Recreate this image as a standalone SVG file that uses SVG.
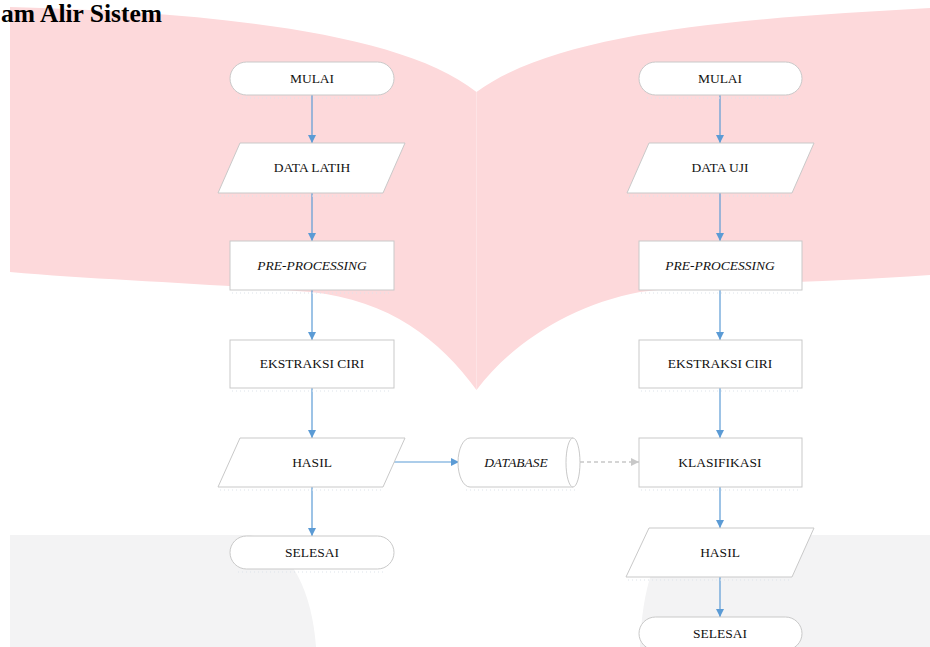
<svg xmlns="http://www.w3.org/2000/svg" width="930" height="647" viewBox="0 0 930 647">
<style>
.n{fill:#fff;stroke:#c9c9c9;stroke-width:1}
.t{font-family:"Liberation Serif","Times New Roman",serif;font-size:13.5px;fill:#111;text-anchor:middle}
.i{font-style:italic}
.c{stroke:#5b9bd5;stroke-width:1.2;fill:none}
.d{stroke:#c8c8c8;stroke-width:1.5;fill:none;stroke-dasharray:4 3}
.s{stroke:#dde3ea;stroke-width:1;stroke-dasharray:1 3;fill:none}
</style>
<defs>
<marker id="a" viewBox="0 0 10 10" refX="10" refY="5" markerWidth="8" markerHeight="8" markerUnits="userSpaceOnUse" orient="auto"><path d="M0,0L10,5L0,10z" fill="#5b9bd5"/></marker>
<marker id="g" viewBox="0 0 10 10" refX="10" refY="5" markerWidth="8" markerHeight="8" markerUnits="userSpaceOnUse" orient="auto"><path d="M0,0L10,5L0,10z" fill="#c8c8c8"/></marker>
</defs>
<g id="background">
<path d="M10,7 C200,12 400,30 476.5,92 L476.5,390 C440,340 390,300 310,292 C220,284 100,280 10,272 Z" fill="#fdd9db"/>
<path d="M476.5,92 C560,30 750,18 930,8 L930,275 C820,283 710,283 640,292 C570,305 510,345 476.5,390 Z" fill="#fdd9db"/>
<line x1="476.5" y1="92" x2="476.5" y2="388" stroke="#fde3e5" stroke-width="1"/>
<path d="M10,535 L250,535 C290,545 312,590 316,647 L10,647 Z" fill="#f3f3f4"/>
<path d="M930,535 L680,535 C655,545 642,590 640,647 L930,647 Z" fill="#f3f3f4"/>
</g>
<text x="1" y="22" font-family="'Liberation Serif','Times New Roman',serif" font-weight="bold" font-size="25.5" fill="#000">am Alir Sistem</text>
<g id="connectors">
<line class="c" x1="312" y1="95" x2="312" y2="143" marker-end="url(#a)"/>
<line class="c" x1="312" y1="193" x2="312" y2="241" marker-end="url(#a)"/>
<line class="c" x1="312" y1="290" x2="312" y2="340" marker-end="url(#a)"/>
<line class="c" x1="312" y1="388" x2="312" y2="438" marker-end="url(#a)"/>
<line class="c" x1="312" y1="487" x2="312" y2="536" marker-end="url(#a)"/>
<line class="c" x1="394" y1="462" x2="459" y2="462" marker-end="url(#a)"/>
<line class="d" x1="580" y1="462" x2="639" y2="462" marker-end="url(#g)"/>
<line class="c" x1="720" y1="95" x2="720" y2="143" marker-end="url(#a)"/>
<line class="c" x1="720" y1="193" x2="720" y2="241" marker-end="url(#a)"/>
<line class="c" x1="720" y1="290" x2="720" y2="340" marker-end="url(#a)"/>
<line class="c" x1="720" y1="388" x2="720" y2="438" marker-end="url(#a)"/>
<line class="c" x1="720" y1="487" x2="720" y2="528" marker-end="url(#a)"/>
<line class="c" x1="720" y1="577" x2="720" y2="617" marker-end="url(#a)"/>
</g>
<g id="mulai1"><rect class="n" x="230" y="62" width="164" height="33" rx="16.5"/><line class="s" x1="238" y1="98" x2="386" y2="98"/><text class="t" x="312" y="83">MULAI</text></g>
<g id="datalatih"><path class="n" d="M240,143 L405,143 L383,193 L218,193 Z"/><line class="s" x1="220" y1="196" x2="381" y2="196"/><text class="t" x="312" y="172">DATA LATIH</text></g>
<g id="pre1"><rect class="n" x="230" y="241" width="164" height="49"/><line class="s" x1="232" y1="293" x2="392" y2="293"/><text class="t i" x="312" y="270">PRE-PROCESSING</text></g>
<g id="ekstraksi1"><rect class="n" x="230" y="340" width="164" height="48"/><line class="s" x1="232" y1="391" x2="392" y2="391"/><text class="t" x="312" y="368">EKSTRAKSI CIRI</text></g>
<g id="hasil1"><path class="n" d="M240,438 L405,438 L383,487 L218,487 Z"/><line class="s" x1="220" y1="490" x2="381" y2="490"/><text class="t" x="312" y="467">HASIL</text></g>
<g id="selesai1"><rect class="n" x="230" y="536" width="164" height="33" rx="16.5"/><line class="s" x1="238" y1="572" x2="386" y2="572"/><text class="t" x="312" y="557">SELESAI</text></g>
<g id="database"><path class="n" d="M470,438 L573,438 A7,24.5 0 0 1 573,487 L470,487 A12,24.5 0 0 1 470,438 Z"/><path class="n" d="M573,438 A7,24.5 0 0 0 573,487"/><line class="s" x1="466" y1="490" x2="576" y2="490"/><text class="t i" x="516" y="467">DATABASE</text></g>
<g id="mulai2"><rect class="n" x="639" y="62" width="163" height="33" rx="16.5"/><line class="s" x1="647" y1="98" x2="794" y2="98"/><text class="t" x="720" y="83">MULAI</text></g>
<g id="datauji"><path class="n" d="M649,143 L814,143 L792,193 L627,193 Z"/><line class="s" x1="629" y1="196" x2="790" y2="196"/><text class="t" x="720" y="172">DATA UJI</text></g>
<g id="pre2"><rect class="n" x="639" y="241" width="163" height="49"/><line class="s" x1="641" y1="293" x2="800" y2="293"/><text class="t i" x="720" y="270">PRE-PROCESSING</text></g>
<g id="ekstraksi2"><rect class="n" x="639" y="340" width="163" height="48"/><line class="s" x1="641" y1="391" x2="800" y2="391"/><text class="t" x="720" y="368">EKSTRAKSI CIRI</text></g>
<g id="klasifikasi"><rect class="n" x="639" y="438" width="163" height="49"/><line class="s" x1="641" y1="490" x2="800" y2="490"/><text class="t" x="720" y="467">KLASIFIKASI</text></g>
<g id="hasil2"><path class="n" d="M649,528 L814,528 L792,577 L626,577 Z"/><line class="s" x1="628" y1="580" x2="790" y2="580"/><text class="t" x="720" y="557">HASIL</text></g>
<g id="selesai2"><rect class="n" x="639" y="617" width="163" height="33" rx="16.5"/><text class="t" x="720" y="638">SELESAI</text></g>
</svg>
